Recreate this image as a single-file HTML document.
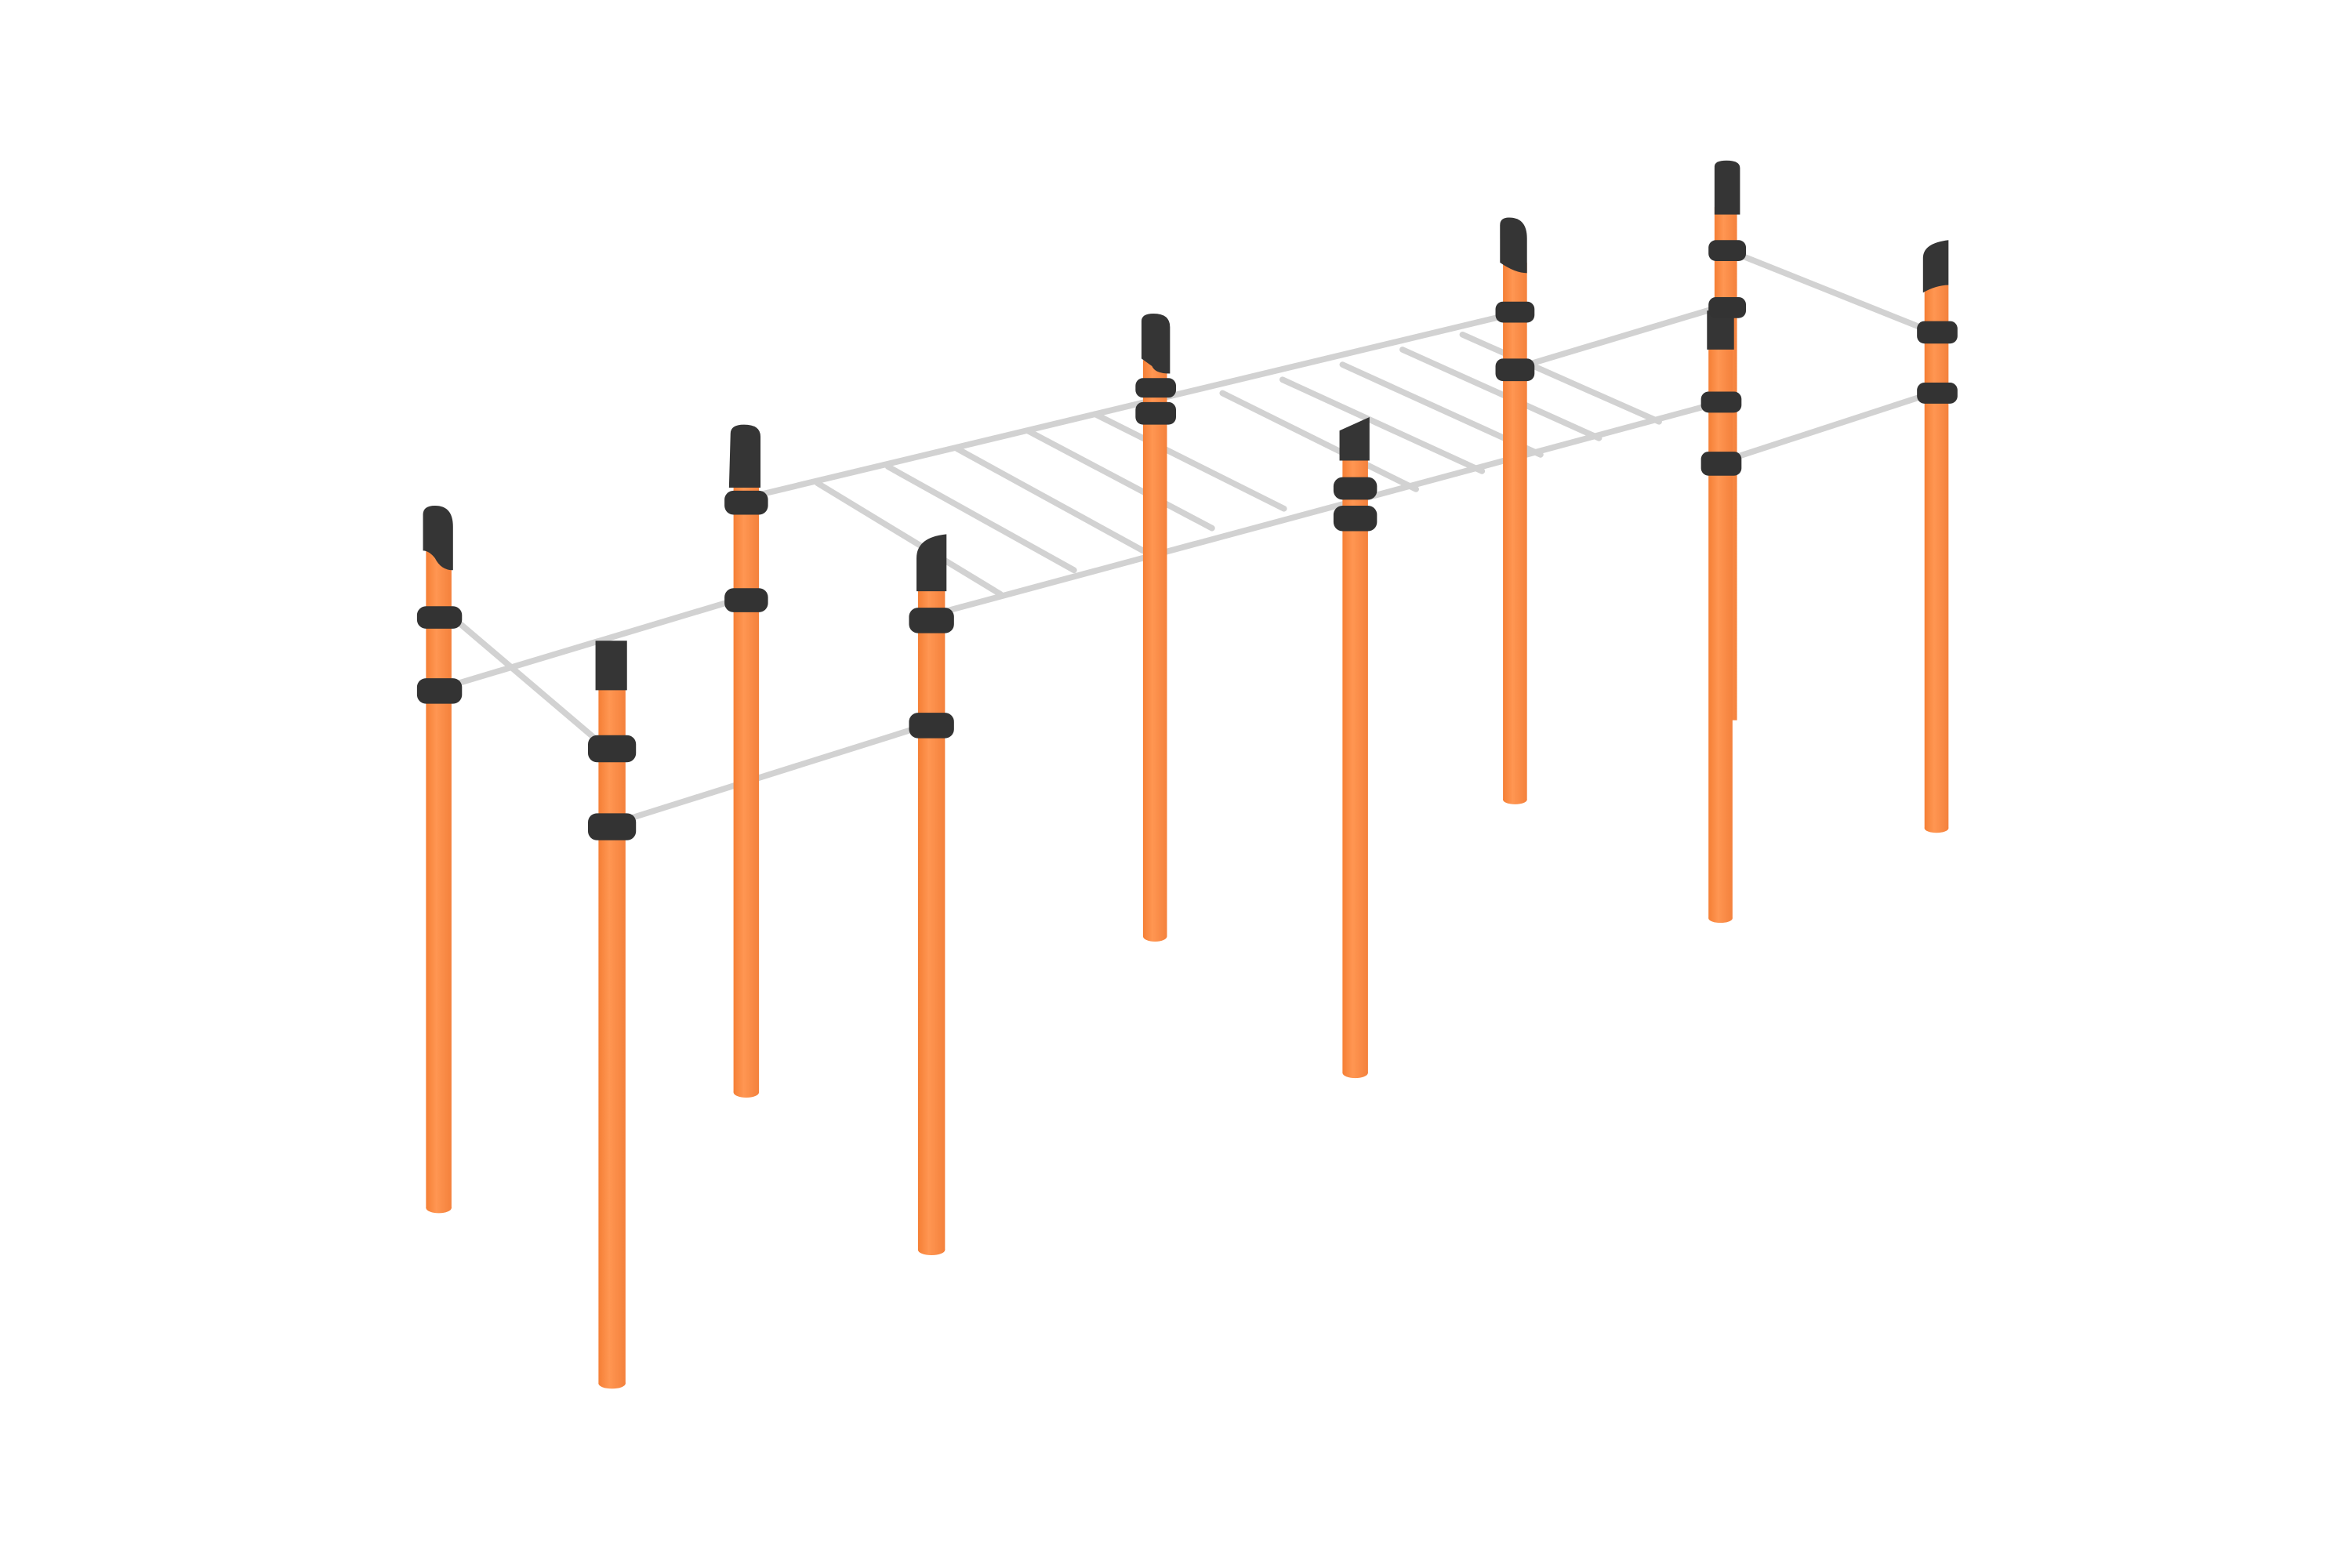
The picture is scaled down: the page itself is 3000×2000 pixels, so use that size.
<!DOCTYPE html>
<html><head><style>html,body{margin:0;padding:0;background:#fff}svg{display:block}</style></head>
<body>
<svg width="3000" height="2000" viewBox="0 0 1568 1045" preserveAspectRatio="none" xmlns="http://www.w3.org/2000/svg">
<defs>
<linearGradient id="o" x1="0" x2="1"><stop offset="0" stop-color="#f57f35"/><stop offset="0.4" stop-color="#ff9652"/><stop offset="1" stop-color="#f4813c"/></linearGradient>
<linearGradient id="r" x1="0" y1="0" x2="0" y2="1"><stop offset="0" stop-color="#eeeeee"/><stop offset="1" stop-color="#bdbdbd"/></linearGradient>
</defs>
<g stroke="#d2d2d2" stroke-width="4" stroke-linecap="round" fill="none">
<line x1="300" y1="410" x2="400" y2="495"/>
<line x1="300" y1="457" x2="490" y2="400"/>
<line x1="415" y1="547" x2="612" y2="485"/>
<line x1="505" y1="330" x2="1005" y2="210"/>
<line x1="628" y1="408" x2="1140" y2="270"/>
<line x1="1015" y1="244" x2="1145" y2="205"/>
<line x1="1155" y1="168" x2="1285" y2="220"/>
<line x1="1150" y1="307" x2="1285" y2="263"/>
<line x1="545" y1="322" x2="667" y2="396"/>
<line x1="592" y1="311" x2="716" y2="380"/>
<line x1="638" y1="299" x2="762" y2="367"/>
<line x1="685" y1="287" x2="808" y2="352"/>
<line x1="730" y1="276" x2="856" y2="339"/>
<line x1="815" y1="262" x2="944" y2="326"/>
<line x1="855" y1="253" x2="988" y2="314"/>
<line x1="895" y1="243" x2="1027" y2="303"/>
<line x1="935" y1="233" x2="1066" y2="292"/>
<line x1="975" y1="223" x2="1106" y2="281"/>
</g>
<g fill="url(#o)">
<rect x="284" y="365" width="17" height="440"/><ellipse cx="292.5" cy="805" rx="8.5" ry="3.5"/>
<rect x="399" y="455" width="18" height="467"/><ellipse cx="408" cy="922" rx="9" ry="3.5"/>
<rect x="489" y="315" width="17" height="413"/><ellipse cx="497.5" cy="728" rx="8.5" ry="3.5"/>
<rect x="612" y="390" width="18" height="443"/><ellipse cx="621" cy="833" rx="9" ry="3.5"/>
<rect x="762" y="240" width="16" height="384"/><ellipse cx="770" cy="624" rx="8" ry="3.5"/>
<rect x="895" y="305" width="17" height="410"/><ellipse cx="903.5" cy="715" rx="8.5" ry="3.5"/>
<rect x="1002" y="175" width="16" height="358"/><ellipse cx="1010" cy="533" rx="8" ry="3"/>
<rect x="1143" y="138" width="15" height="342"/>
<rect x="1139" y="230" width="16" height="382"/><ellipse cx="1147" cy="612" rx="8" ry="3"/>
<rect x="1283" y="190" width="16" height="362"/><ellipse cx="1291" cy="552" rx="8" ry="3"/>
</g>
<g fill="#353535">
<path d="M282,343 q0,-6 8,-6 q12,0 12,14 v29 q-8,0 -12,-8 q-4,-5 -8,-5z"/>
<path d="M397,427 h21 v33 h-21z"/>
<path d="M487,289 q0,-6 9,-6 q11,0 11,8 v34 h-21z"/>
<path d="M611,372 q0,-14 20,-16 v38 h-20z"/>
<path d="M761,214 q0,-5 8,-5 q11,0 11,9 v31 q-10,0 -12,-5 l-7,-5z"/>
<path d="M893,287 l20,-9 v29 h-20z"/>
<path d="M1000,150 q0,-5 6,-5 q12,0 12,14 v23 q-8,0 -18,-7z"/>
<path d="M1143,111 q0,-4 8,-4 q9,0 9,5 v31 h-17z"/>
<path d="M1138,207 h18 v26 h-18z"/>
<path d="M1282,172 q0,-10 17,-12 v30 q-8,0 -17,5z"/>
</g>
<g fill="#333">
<rect x="278" y="404" width="30" height="15" rx="6"/><rect x="278" y="452" width="30" height="17" rx="6"/>
<rect x="392" y="490" width="32" height="18" rx="6"/><rect x="392" y="542" width="32" height="18" rx="6"/>
<rect x="483" y="327" width="29" height="16" rx="6"/><rect x="483" y="392" width="29" height="16" rx="6"/>
<rect x="606" y="405" width="30" height="17" rx="6"/><rect x="606" y="475" width="30" height="17" rx="6"/>
<rect x="757" y="252" width="27" height="13" rx="5"/><rect x="757" y="268" width="27" height="15" rx="5"/>
<rect x="889" y="318" width="29" height="15" rx="6"/><rect x="889" y="337" width="29" height="17" rx="6"/>
<rect x="997" y="201" width="26" height="14" rx="5"/><rect x="997" y="239" width="26" height="15" rx="5"/>
<rect x="1139" y="160" width="25" height="14" rx="5"/><rect x="1139" y="198" width="25" height="14" rx="5"/>
<rect x="1134" y="261" width="27" height="14" rx="5"/><rect x="1134" y="301" width="27" height="16" rx="5"/>
<rect x="1278" y="214" width="27" height="15" rx="5"/><rect x="1278" y="255" width="27" height="14" rx="5"/>
</g>
</svg>
</body></html>
